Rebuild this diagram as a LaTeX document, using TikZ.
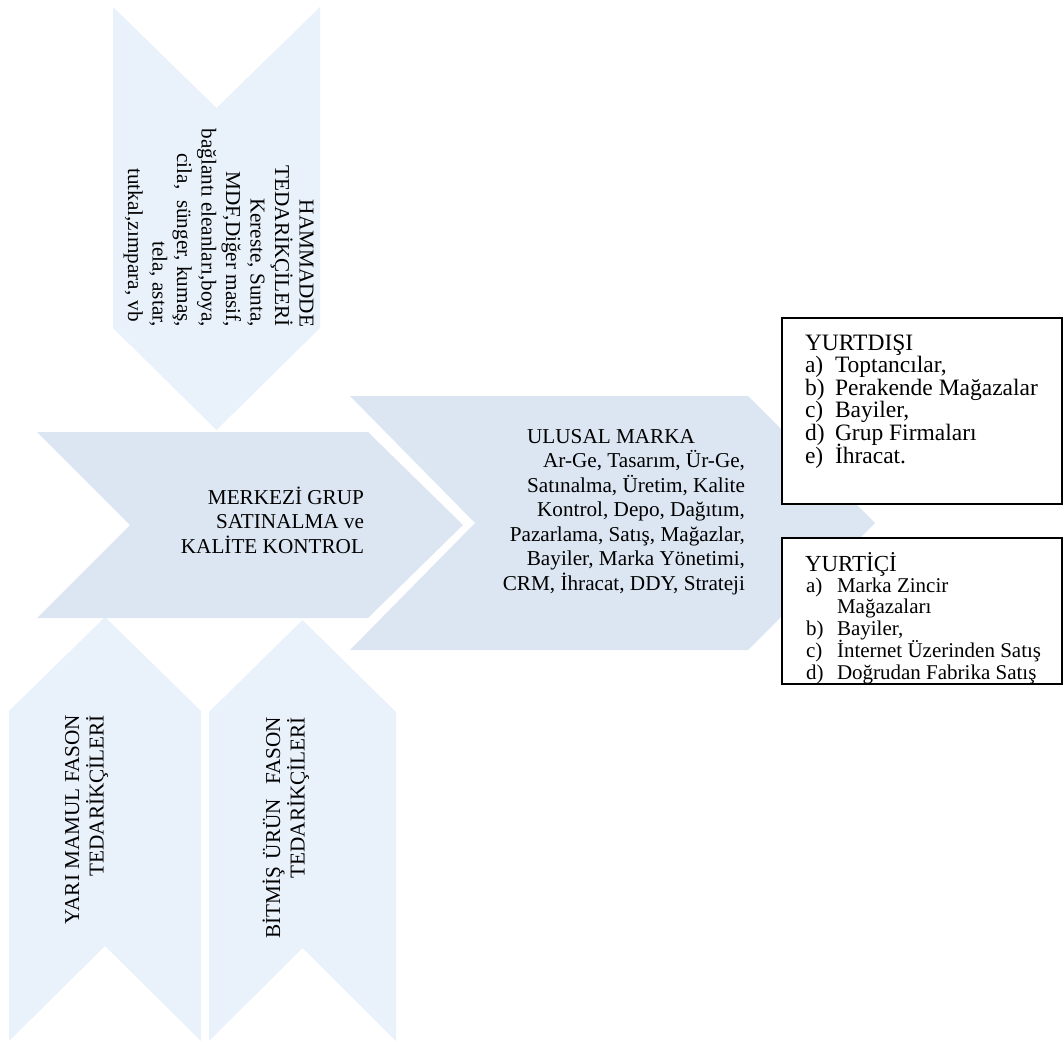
\documentclass[tikz,border=0pt]{standalone}
\usepackage{fontspec}
\setmainfont{Liberation Serif}
\definecolor{chevlight}{HTML}{E9F1FB}
\definecolor{chevmid}{HTML}{DCE6F2}
% keep line pitch fixed even where accents or descenders meet
\setlength{\lineskiplimit}{-100pt}
\setlength{\lineskip}{0pt}
\begin{document}
\begin{tikzpicture}[x=1pt,y=-1pt,
  lightchev/.style={fill=chevlight,draw=none},
  midchev/.style={fill=chevmid,draw=none},
  txt/.style={inner sep=0pt,outer sep=0pt,font=\fontsize{21.2}{24.5}\selectfont},
  listbox/.style={draw=black,line width=1.5pt,fill=white,inner sep=0pt,outer sep=0pt,anchor=north west}]
\useasboundingbox (0,0) rectangle (1064,1041);

% supplier chevrons (pointing down / up)
\fill[lightchev] (113,7) -- (216.5,108) -- (320,7) -- (320,328) -- (216.5,430) -- (113,328) -- cycle;
\fill[lightchev] (9,711) -- (105,617) -- (201,711) -- (201,1041) -- (105,946) -- (9,1041) -- cycle;
\fill[lightchev] (209,712) -- (302.5,620) -- (396,712) -- (396,1041) -- (302.5,948) -- (209,1041) -- cycle;

% central chevrons (pointing right)
\fill[midchev] (37,432) -- (368,432) -- (463,525) -- (368,618) -- (37,618) -- (130,525) -- cycle;
\fill[midchev] (350,396) -- (748,396) -- (875,523) -- (748,650) -- (350,650) -- (475,523) -- cycle;

% sales channel boxes
\node[listbox,minimum width=280pt,minimum height=186pt] (abroad) at (782,318) {};
\node[listbox,minimum width=280pt,minimum height=146pt] (domestic) at (782,538) {};

% texts of the chevrons (multi-line nodes: base = last line's baseline)
\node[txt,rotate=-90,align=right,anchor=east] (rawsup) at (218.5,327)
  {HAMMADDE\\ TEDARİKÇİLERİ\\ Kereste, Sunta,\\ MDF,Diğer masif,\\ bağlantı eleanları,boya,\\ cila,\ \ sünger, kumaş,\\ tela, astar,\\ tutkal,zımpara, vb\rule{5pt}{0pt}};
\node[txt,rotate=90,align=right,anchor=east] (semisup) at (86.5,715)
  {YARI MAMUL FASON\\ TEDARİKÇİLERİ};
\node[txt,rotate=90,align=right,anchor=east] (finsup) at (286,717)
  {BİTMİŞ\hspace{8pt}ÜRÜN\hspace{14pt}FASON\\ TEDARİKÇİLERİ};
\node[txt,align=right,anchor=base east] (central) at (364,553)
  {MERKEZİ GRUP\\ SATINALMA ve\\ KALİTE KONTROL};
\node[txt,align=right,anchor=base east] (brand) at (745,590)
  {ULUSAL MARKA\rule{50pt}{0pt}\\ Ar-Ge, Tasarım, Ür-Ge,\\ Satınalma, Üretim, Kalite\\ Kontrol, Depo, Dağıtım,\\ Pazarlama, Satış, Mağazlar,\\ Bayiler, Marka Yönetimi,\\ CRM, İhracat, DDY, Strateji};

% texts of the boxes
\node[txt,align=left,anchor=base west,font=\fontsize{23.5}{22.6}\selectfont] (abroadtxt) at (805,463)
  {YURTDIŞI\\
   \makebox[30pt][l]{a)}Toptancılar,\\
   \makebox[30pt][l]{b)}Perakende Mağazalar\\
   \makebox[30pt][l]{c)}Bayiler,\\
   \makebox[30pt][l]{d)}Grup Firmaları\\
   \makebox[30pt][l]{e)}İhracat.};
\node[txt,anchor=base west,font=\fontsize{23}{22}\selectfont] (domhead) at (805,571) {YURTİÇİ};
\node[txt,align=left,anchor=base west,font=\fontsize{21}{21.7}\selectfont] (domtxt) at (806,679)
  {\makebox[31pt][l]{a)}Marka Zincir\\
   \hspace*{31pt}Mağazaları\\
   \makebox[31pt][l]{b)}Bayiler,\\
   \makebox[31pt][l]{c)}İnternet Üzerinden Satış\\
   \makebox[31pt][l]{d)}Doğrudan Fabrika Satış};
\end{tikzpicture}
\end{document}
